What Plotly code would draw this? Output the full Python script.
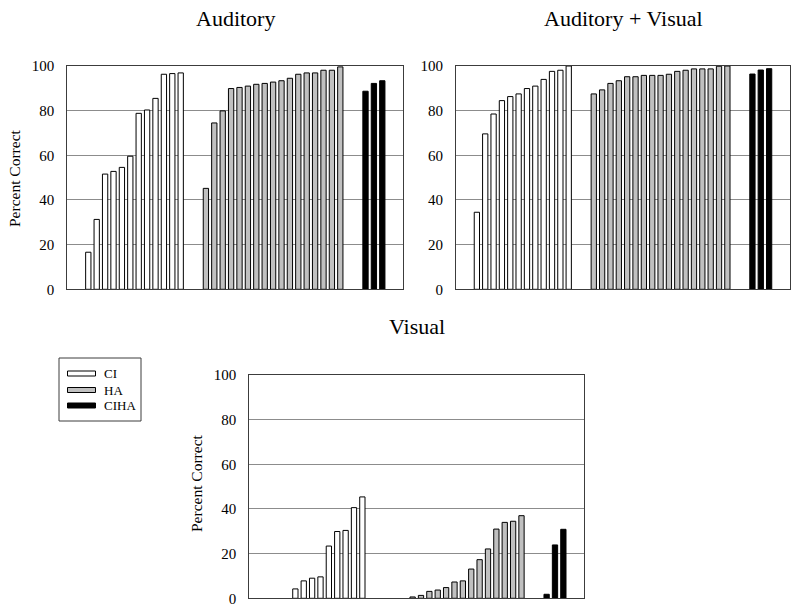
import plotly.graph_objects as go

# ---------------- data ----------------
groups = ["CI", "HA", "CIHA"]
panel_titles = ["Auditory", "Auditory + Visual", "Visual"]
y_ticks = [0, 20, 40, 60, 80, 100]

aud_ci = [16.6, 31.3, 51.6, 52.8, 54.6, 59.6, 78.8, 80.3, 85.5, 96.3, 96.6, 96.9]
aud_ha = [45.2, 74.5, 79.9, 89.9, 90.4, 91.0, 91.8, 92.2, 92.8, 93.4, 94.5, 96.3,
          96.9, 96.9, 98.1, 98.1, 99.6]
aud_ciha = [88.7, 92.2, 93.4]

av_ci = [34.5, 69.6, 78.5, 84.5, 86.3, 87.5, 89.9, 91.0, 94.0, 97.6, 98.1, 100.0]
av_ha = [87.5, 89.3, 92.2, 93.4, 95.2, 95.2, 95.8, 95.8, 95.8, 96.3, 97.6, 98.1,
         98.7, 98.7, 98.7, 99.9, 100.0]
av_ciha = [96.4, 98.2, 98.8]

vis_ci = [0, 0, 0, 4.2, 7.8, 9.0, 9.6, 23.4, 29.9, 30.4, 40.6, 45.4]
vis_ha = [0, 0, 0, 0.6, 1.3, 3.1, 3.7, 4.8, 7.3, 7.8, 13.1, 17.3, 22.1, 31.0,
          34.0, 34.5, 37.0]
vis_ciha = [1.8, 23.9, 30.9]

# ---------------- styles ----------------
FONT = "Liberation Serif"
fills = {"CI": "#ffffff", "HA": "#c0c0c0", "CIHA": "#000000"}
GRID = "#8c8c8c"
FRAME = "#3c3c3c"

# slot layout: 2 empty, 12 CI, 2 empty, 17 HA, 2 empty, 3 CIHA, 2 empty
n_slots = 40
start = {"CI": 2, "HA": 16, "CIHA": 35}

panels = [
    (aud_ci, aud_ha, aud_ciha),
    (av_ci, av_ha, av_ciha),
    (vis_ci, vis_ha, vis_ciha),
]

W, H = 800, 612
# plot-area pixel boxes (left, right, top, bottom)
boxes = [
    (67.3, 403.3, 66.0, 289.3),
    (456.0, 790.0, 66.0, 289.3),
    (249.3, 584.3, 375.0, 598.3),
]
title_y = [18, 18, 326]

fig = go.Figure()
layout_axes = {}
annotations = []
for k, (vals, box) in enumerate(zip(panels, boxes)):
    sfx = "" if k == 0 else str(k + 1)
    for g, series in zip(groups, vals):
        xs = [start[g] + i for i in range(len(series))]
        fig.add_trace(go.Bar(
            x=xs, y=series, name=g, width=0.63,
            marker=dict(color=fills[g],
                        line=dict(color="#000000",
                                  width=[0 if v == 0 else 1 for v in series])),
            xaxis="x" + sfx, yaxis="y" + sfx, showlegend=False,
        ))
    l, r, t, b = box
    layout_axes["xaxis" + sfx] = dict(
        domain=[l / W, r / W], range=[-0.5, n_slots - 0.5], anchor="y" + sfx,
        showticklabels=False, ticks="", showgrid=False, zeroline=False,
        showline=True, linecolor=FRAME, linewidth=1, mirror=True,
        automargin=False,
    )
    layout_axes["yaxis" + sfx] = dict(
        domain=[1 - b / H, 1 - t / H], range=[0, 100], anchor="x" + sfx,
        tickvals=y_ticks, ticks="", ticklabelstandoff=9,
        tickfont=dict(family=FONT, size=15, color="#000000"),
        showgrid=True, gridcolor=GRID, gridwidth=1, zeroline=False,
        showline=True, linecolor=FRAME, linewidth=1, mirror=True,
        automargin=False,
    )
    annotations.append(dict(
        text=panel_titles[k], x=(l + r) / 2 / W, y=1 - title_y[k] / H,
        xref="paper", yref="paper", showarrow=False, xanchor="center",
        yanchor="middle", font=dict(family=FONT, size=22, color="#000000")))

for (x, y) in [(14, 178), (196, 483)]:
    annotations.append(dict(
        text="Percent Correct", x=x / W, y=1 - y / H, xref="paper", yref="paper",
        showarrow=False, textangle=-90, xanchor="center", yanchor="middle",
        font=dict(family=FONT, size=15.5, color="#000000")))

# manual legend box
shapes = [dict(type="rect", xref="paper", yref="paper",
               x0=59 / W, x1=141 / W, y0=1 - 421 / H, y1=1 - 358 / H,
               line=dict(color=FRAME, width=1), fillcolor="#ffffff")]
for g, cy in zip(groups, [373.5, 390.0, 405.5]):
    shapes.append(dict(type="rect", xref="paper", yref="paper",
                       x0=67.5 / W, x1=95.5 / W, y0=1 - (cy + 2.5) / H,
                       y1=1 - (cy - 2.5) / H,
                       line=dict(color="#000000", width=1), fillcolor=fills[g]))
    annotations.append(dict(text=g, x=102 / W, y=1 - cy / H, xref="paper",
                            yref="paper", showarrow=False, xanchor="left",
                            yanchor="middle",
                            font=dict(family=FONT, size=13, color="#000000")))

fig.update_layout(
    width=W, height=H, margin=dict(l=0, r=0, t=0, b=0, pad=0),
    paper_bgcolor="#ffffff", plot_bgcolor="#ffffff",
    barmode="overlay", showlegend=False,
    annotations=annotations, shapes=shapes,
    **layout_axes,
)

fig.write_html(
    "out.html",
    config={"displayModeBar": False},
    post_script="document.body.style.margin='0';document.body.style.overflow='hidden';",
)
